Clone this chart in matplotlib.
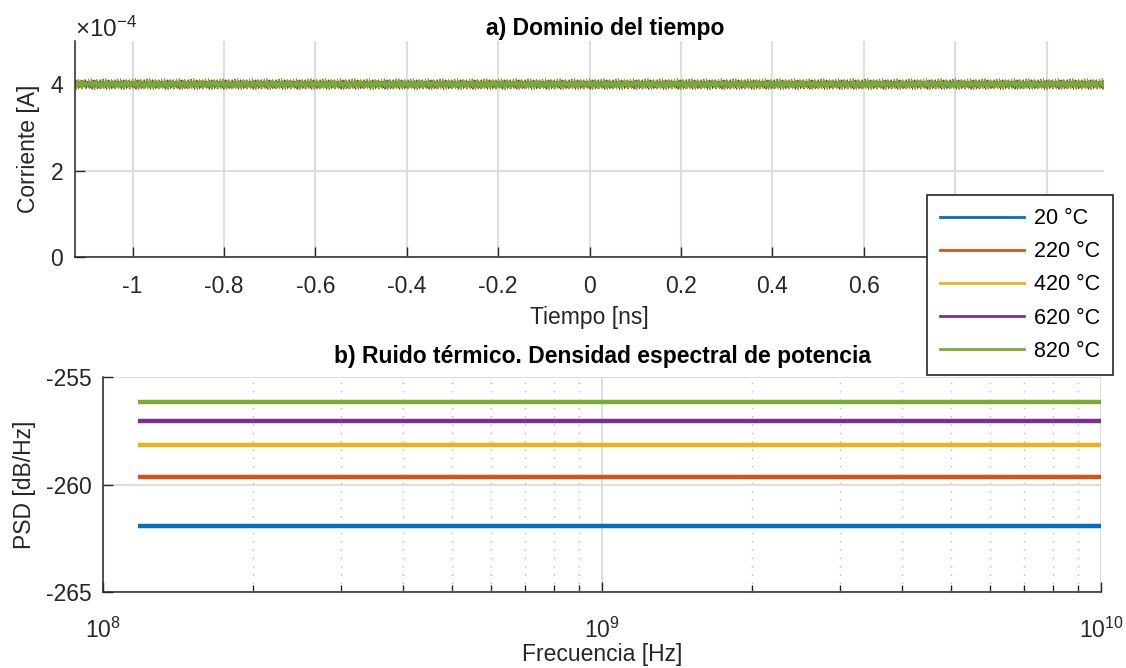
import numpy as np
import matplotlib
matplotlib.use('Agg')
import matplotlib.pyplot as plt
from matplotlib.ticker import FuncFormatter, ScalarFormatter, LogLocator, FixedLocator

plt.rcParams['font.family'] = ['Liberation Sans', 'DejaVu Sans']
plt.rcParams['axes.unicode_minus'] = False
plt.rcParams['mathtext.fontset'] = 'custom'
plt.rcParams['mathtext.rm'] = 'Liberation Sans'

# temperatures and matlab default colour order
temps = ['20 °C', '220 °C', '420 °C', '620 °C', '820 °C']
colors = ['#0072BD', '#D95319', '#EDB120', '#7E2F8E', '#77AC30']

# time domain: mean current and noise rms per temperature
i_mean = 4.0e-4
noise_rms_uA = [2.9, 3.7, 4.3, 4.9, 5.4]
# normalised noise samples
ripple = [0.3, -1.2, 0.8, 1.9, -0.4, -2.1, 0.6, 1.1, -0.9, 0.2, 2.4, -1.5, -0.3,
          1.4, -0.7, 0.5, -1.8, 0.9, 0.1, -2.5, 1.6, -0.2, 0.7, -1.1, 2.0, -0.6,
          0.4, -1.4, 1.2, -0.1, -0.8, 1.7, -2.2, 0.0, 1.0, -1.6, 0.6]
t_span = 1.126  # ns
n_samples = 2600

# thermal noise psd levels (dB/Hz)
psd_db = [-261.90, -259.64, -258.17, -257.06, -256.17]
f_start = 1.175e8
f_stop = 1e10

fs = 16.5
dark = '#262626'
gridc = '#dedede'

fig = plt.figure(figsize=(11.26, 6.68), dpi=100)
ax1 = fig.add_axes([0.0666, 0.6153, 0.9140, 0.3236])
ax2 = fig.add_axes([0.0915, 0.1133, 0.8863, 0.3223])

for ax in (ax1, ax2):
    for s in ('top', 'right'):
        ax.spines[s].set_visible(False)
    for s in ('left', 'bottom'):
        ax.spines[s].set_color(dark)
        ax.spines[s].set_linewidth(1.1)
    ax.tick_params(direction='in', length=7.2, width=1.0, colors=dark,
                   labelsize=fs, labelcolor=dark)
    ax.set_axisbelow(True)

# a) time domain
t = np.linspace(-t_span, t_span, n_samples)
base = np.resize(np.array(ripple), n_samples)
lines = []
for k, (lab, c) in enumerate(zip(temps, colors)):
    i_t = i_mean + noise_rms_uA[k] * 1e-6 * np.roll(base, 7 * k + 3)
    ln, = ax1.plot(t, i_t, color=c, lw=0.6, label=lab)
    lines.append(ln)

ax1.set_xlim(-t_span, t_span)
ax1.set_ylim(0, 5e-4)
ax1.xaxis.set_major_locator(FixedLocator(np.round(np.arange(-1.0, 1.01, 0.2), 1)))
ax1.yaxis.set_major_locator(FixedLocator([0, 2e-4, 4e-4]))
ax1.xaxis.set_major_formatter(FuncFormatter(lambda v, p: '%g' % (round(v, 6) + 0.0)))
sf = ScalarFormatter(useMathText=True)
sf.set_powerlimits((0, 0))
ax1.yaxis.set_major_formatter(sf)
ax1.yaxis.get_offset_text().set_fontsize(17.5)
ax1.yaxis.get_offset_text().set_color(dark)
ax1.grid(True, color=gridc, lw=1.5)
ax1.tick_params(axis='x', pad=13)
ax1.tick_params(axis='y', pad=8)
ax1.set_xlabel('Tiempo [ns]', fontsize=fs, color=dark, labelpad=6)
ax1.set_ylabel('Corriente [A]', fontsize=fs, color=dark, labelpad=7)
ax1.set_title('a) Dominio del tiempo', fontsize=fs, fontweight='bold',
              x=0.5156, pad=4)

# b) power spectral density
for k, c in enumerate(colors):
    ax2.plot([f_start, f_stop], [psd_db[k], psd_db[k]], color=c, lw=3.2,
             solid_capstyle='butt')

ax2.set_xscale('log')
ax2.set_xlim(1e8, 1e10)
ax2.set_ylim(-265, -255)
ax2.yaxis.set_major_locator(FixedLocator([-265, -260, -255]))
ax2.yaxis.set_major_formatter(FuncFormatter(lambda v, p: '%g' % v))
ax2.xaxis.set_major_locator(LogLocator(base=10))
ax2.xaxis.set_minor_locator(LogLocator(base=10, subs=np.arange(2, 10)))
ax2.tick_params(axis='x', which='minor', direction='in', length=5, width=1.0,
                colors=dark)
ax2.grid(True, which='major', color=gridc, lw=1.5)
ax2.grid(True, which='minor', axis='x', color='#b8b8b8', lw=1.0,
         linestyle=(0, (1, 5)))
ax2.tick_params(axis='x', pad=18)
ax2.tick_params(axis='y', pad=8)
ax2.set_xlabel('Frecuencia [Hz]', fontsize=fs, color=dark, labelpad=0)
ax2.set_ylabel('PSD [dB/Hz]', fontsize=fs, color=dark, labelpad=7)
ax2.set_title('b) Ruido térmico. Densidad espectral de potencia', fontsize=fs,
              fontweight='bold', pad=10)

leg = fig.legend(handles=lines, loc='upper left',
                 bbox_to_anchor=(927 / 1126, 1 - 195 / 668),
                 fontsize=15.5, frameon=True, fancybox=False, framealpha=1,
                 edgecolor=dark, handlelength=3.9, handletextpad=0.45,
                 labelspacing=0.56, borderpad=0.62, borderaxespad=0)
leg.get_frame().set_linewidth(1.2)
for hl in leg.get_lines():
    hl.set_linewidth(2.0)

fig.savefig('out.png', dpi=100)
